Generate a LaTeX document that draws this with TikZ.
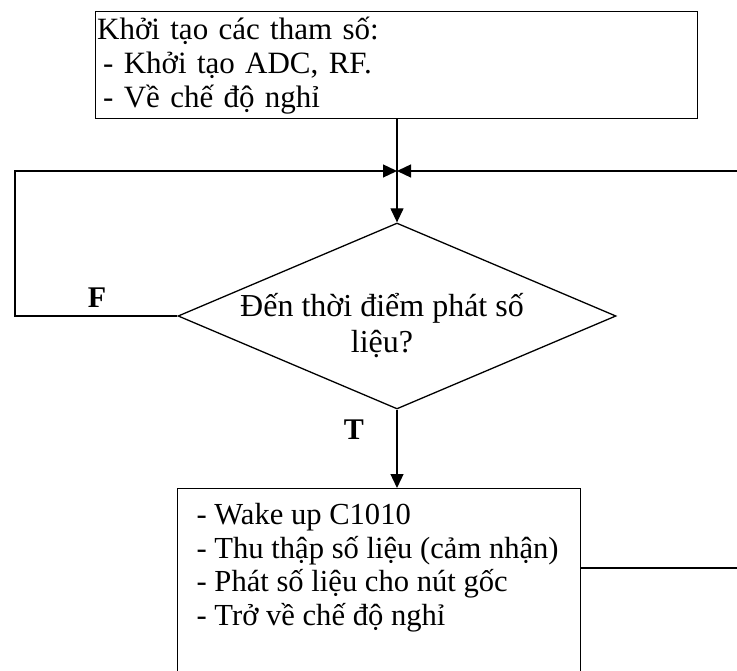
\documentclass[tikz,border=0pt]{standalone}
\usepackage{fontspec}
\setmainfont{Liberation Serif}
\usetikzlibrary{arrows.meta,shapes.geometric}
\begin{document}
\begin{tikzpicture}[x=1pt,y=-1pt,
  line width=1.3pt,
  every node/.style={font=\fontsize{31}{34}\selectfont},
  flow/.style={-{Triangle[length=14pt,width=13pt]}},
  box/.style={draw, rectangle, inner sep=0pt, anchor=north west},
  lab/.style={font=\fontsize{30}{34}\selectfont\bfseries}]
\useasboundingbox (0,0) rectangle (737,671);

% initialisation block
\node[box, minimum width=602pt, minimum height=107pt, text width=599pt,
      align=left, inner xsep=1.5pt] (init) at (95,11)
  {Khởi tạo các tham số:\\\hspace*{6pt}- Khởi tạo ADC, RF.\\\hspace*{6pt}- Về chế độ nghỉ};

% decision
\node[draw, diamond, minimum width=438pt, minimum height=186pt, inner sep=0pt] (ask) at (397,316) {};
\node[align=center, inner sep=0pt, font=\fontsize{32}{36}\selectfont] (asktext) at (382,326)
  {Đến thời điểm phát số\\liệu?};

% work block (runs past the bottom edge)
\node[box, minimum width=403pt, minimum height=210pt] (act) at (177,488) {};
\node[anchor=north west, align=left, inner sep=0pt, font=\fontsize{30.6}{33.5}\selectfont] (acttext) at (196,503)
  {- Wake up C1010\\- Thu thập số liệu (cảm nhận)\\- Phát số liệu cho nút gốc\\- Trở về chế độ nghỉ};

% branch labels
\node[lab] (fl) at (97,298) {F};
\node[lab] (tl) at (354,430) {T};

% connectors
\coordinate (join) at (397,171);
\coordinate (lcorner) at (15,171);
\coordinate (rcorner) at (745,171);
\coordinate (rout) at (745,568);

\draw (init.south -| join) -- (join);
\draw[flow] (join) -- (ask.north);
\draw[flow] (ask.west) -| (lcorner) -- (join);
\draw[flow] (act.north east |- rout) -- (rout) -- (rcorner) -- (join);
\draw[flow] (ask.south) -- (ask.south |- act.north);
\end{tikzpicture}
\end{document}
